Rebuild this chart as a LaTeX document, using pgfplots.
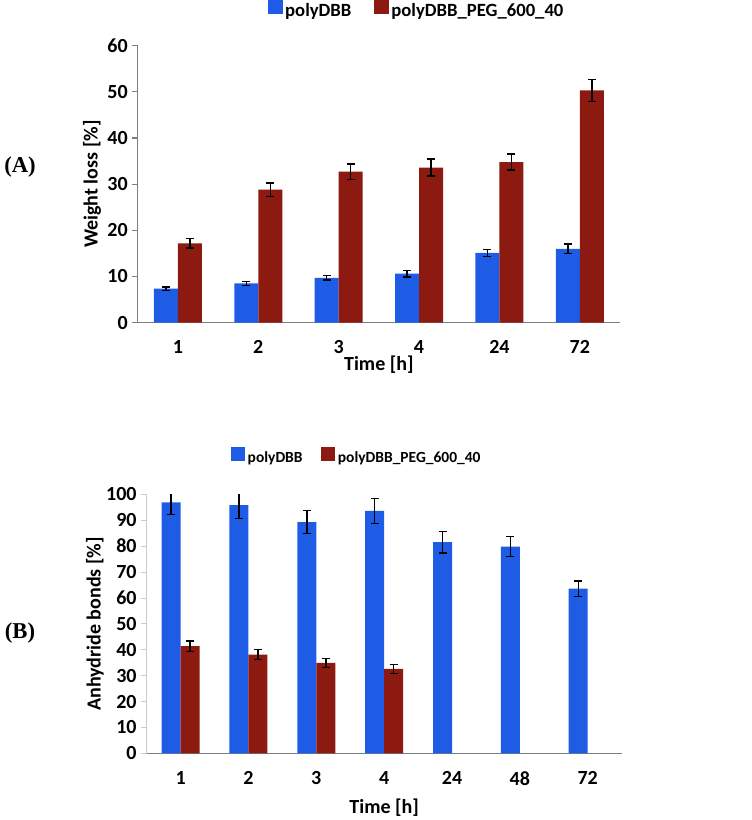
\documentclass[border=0pt]{standalone}
\usepackage{fontspec}
\setmainfont{Carlito}
\newfontfamily\timesf{Liberation Serif}
\usepackage{pgfplots}
\pgfplotsset{compat=1.18}
\definecolor{cblue}{RGB}{30,92,230}
\definecolor{cred}{RGB}{140,26,16}
\definecolor{axgray}{RGB}{120,128,132}

\pgfplotsset{
 sqA/.style={legend image code/.code={\fill[##1] (0pt,-2.5pt) rectangle (11pt,8.5pt);}},
 sqB/.style={legend image code/.code={\fill[##1] (0pt,-2.5pt) rectangle (10.5pt,8pt);}},
 common/.style={
  scale only axis,
  anchor=south west,
  ybar=0pt,
  clip mode=individual,
  font=\bfseries\fontsize{15}{17}\selectfont,
  tick label style={font=\bfseries\fontsize{15}{17}\selectfont},
  label style={font=\bfseries\fontsize{15}{17}\selectfont},
  /pgf/number format/assume math mode=true,
  axis x line*=bottom, axis y line*=left,
  axis line style={-, axgray, line width=0.8pt},
  tick align=outside,
  xtick style={draw=none},
  minor x tick style={axgray, line width=0.8pt},
  minor tick length=4pt,
  major tick length=4pt,
  ytick style={axgray, line width=0.8pt},
  legend columns=2,
  error bars/y dir=both, error bars/y explicit,
  error bars/error bar style={black, line width=1.1pt},
  error bars/error mark options={rotate=90, mark size=3pt, line width=1.1pt, black},
  xticklabel style={yshift=-6pt},
  ymin=0,
 }
}

\begin{document}
\begin{tikzpicture}
\useasboundingbox (0,0) rectangle (564pt,615pt);

% Panel A
\begin{axis}[common,
  at={(103.3pt,373pt)},
  width=361.7pt, height=207.75pt,
  bar width=18pt,
  xmin=-0.5, xmax=5.5,
  ymax=60, ytick={0,10,...,60},
  xtick={0,...,5}, xticklabels={1,2,3,4,24,72},
  minor xtick={-0.5,0.5,...,5.5},
  xlabel={Time [h]}, ylabel={Weight loss [\%]},
  xlabel style={at={(axis description cs:0.5,-0.153)}, anchor=center},
  ylabel style={at={(axis description cs:-0.095,0.5)}, anchor=center, rotate=0},
  every axis plot post/.append style={sqA},
  legend style={at={(0.579,1.129)}, anchor=center, draw=none, fill=none,
    font=\bfseries\fontsize{14}{16}\selectfont,
    /tikz/every even column/.append style={column sep=15pt}},
]
\addplot[fill=cblue, draw=none] coordinates {
 (0,7.35) +- (0,0.35)
 (1,8.5) +- (0,0.45)
 (2,9.7) +- (0,0.5)
 (3,10.6) +- (0,0.7)
 (4,15.1) +- (0,0.8)
 (5,16.0) +- (0,1.0)
};
\addplot[fill=cred, draw=none] coordinates {
 (0,17.2) +- (0,1.0)
 (1,28.8) +- (0,1.5)
 (2,32.7) +- (0,1.7)
 (3,33.6) +- (0,1.8)
 (4,34.8) +- (0,1.7)
 (5,50.3) +- (0,2.4)
};
\legend{polyDBB, polyDBB\_PEG\_600\_40}
\node[font=\timesf\bfseries\fontsize{17}{19}\selectfont] at (axis description cs:-0.244,0.563) {(A)};
\end{axis}

% Panel B
\begin{axis}[common,
  at={(110pt,50pt)},
  width=356.25pt, height=194.25pt,
  bar width=14.25pt,
  xmin=-0.5, xmax=6.5,
  ymax=100, ytick={0,10,...,100},
  xtick={0,...,6}, xticklabels={1,2,3,4,24,48,72},
  minor xtick={-0.5,0.5,...,6.5},
  y axis line style={axgray!40, line width=0.6pt},
  ytick style={axgray!40, line width=0.6pt},
  xlabel={Time [h]}, ylabel={Anhydride bonds [\%]},
  xlabel style={at={(axis description cs:0.5,-0.211)}, anchor=center},
  ylabel style={at={(axis description cs:-0.109,0.5)}, anchor=center, rotate=0},
  every axis plot post/.append style={sqB},
  legend style={at={(0.443,1.144)}, anchor=center, draw=none, fill=none,
    font=\bfseries\fontsize{11.6}{14}\selectfont,
    /tikz/every even column/.append style={column sep=12pt}},
]
\addplot[fill=cblue, draw=none] coordinates {
 (0,96.9) +- (0,4.6)
 (1,95.8) +- (0,5.2)
 (2,89.3) +- (0,4.5)
 (3,93.6) +- (0,4.8)
 (4,81.5) +- (0,4.2)
 (5,79.8) +- (0,3.9)
 (6,63.6) +- (0,3.0)
};
\addplot[fill=cred, draw=none] coordinates {
 (0,41.4) +- (0,2.0)
 (1,38.1) +- (0,1.9)
 (2,34.9) +- (0,1.7)
 (3,32.6) +- (0,1.7)
};
\legend{polyDBB, polyDBB\_PEG\_600\_40}
\node[font=\timesf\bfseries\fontsize{17}{19}\selectfont] at (axis description cs:-0.2667,0.4645) {(B)};
\end{axis}
\end{tikzpicture}
\end{document}
